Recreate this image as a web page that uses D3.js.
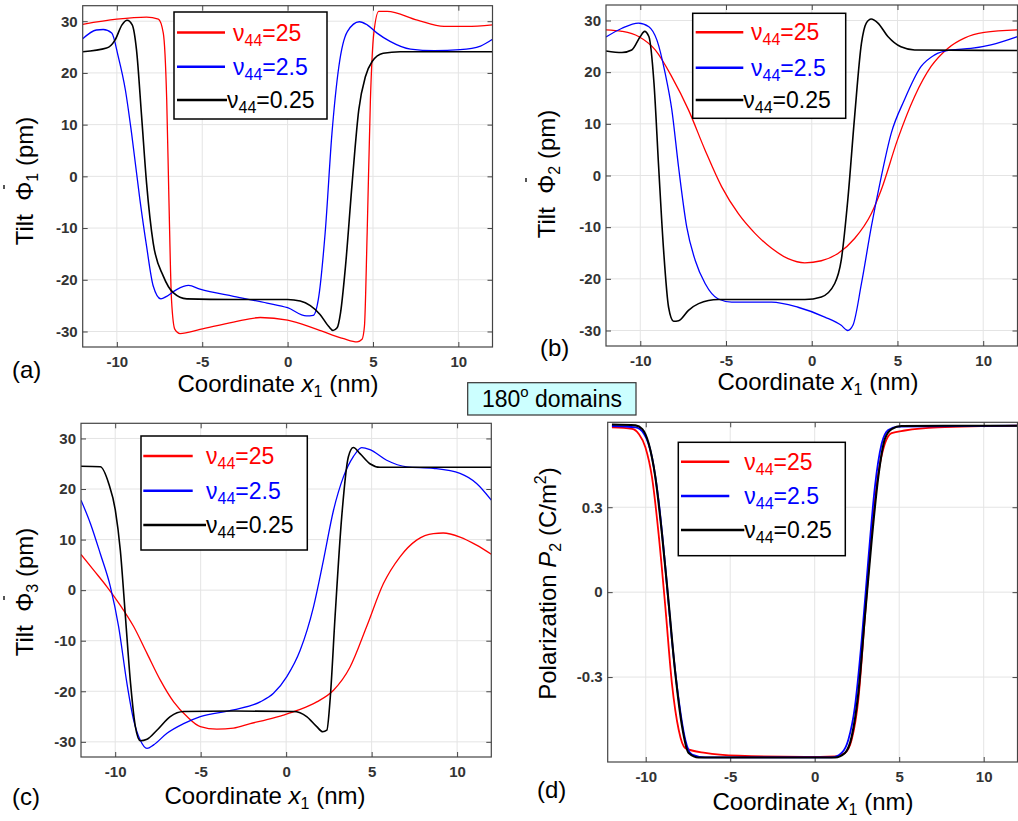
<!DOCTYPE html>
<html>
<head>
<meta charset="utf-8">
<script src="https://cdn.jsdelivr.net/npm/d3@7"></script>
<style>
  body { margin: 0; background: #fff; }
  svg { font-family: "Liberation Sans", Arial, sans-serif; }
  .tick text { font-weight: bold; fill: #333; font-size: 15px; }
</style>
</head>
<body>
<svg id="fig" width="1018" height="821"></svg>
<script>
var xTicks = [-10, -5, 0, 5, 10];
var tiltTicks = [-30, -20, -10, 0, 10, 20, 30];
var polTicks = [-0.3, 0, 0.3];
var legendValues = ["25", "2.5", "0.25"];
var colors = ["#ff0000", "#0000ff", "#000000"];

// (a) tilt Phi1
var a_red = [[-12,29.4],[-10,30.4],[-8.26,30.8],[-7.57,30.4],[-7.28,27.7],[-7.08,14.8],[-6.95,-4.5],[-6.8,-23.8],[-6.6,-29.6],[-6.3,-30.4],[-5.13,-29.6],[-3.17,-28.2],[-1.6,-27.3],[0,-27.8],[1.72,-29.6],[3.29,-31.4],[4.07,-32.0],[4.36,-31.5],[4.5,-29],[4.66,-10.9],[4.85,14.8],[5.05,27.7],[5.34,31.9],[5.83,31.9],[7.6,30.2],[9.16,29.0],[10.5,29.0],[12,29.3]];
var a_blue = [[-12,26.6],[-11.2,28.3],[-10.8,28.4],[-10.3,27.7],[-9.92,23.2],[-9.5,16.7],[-9.14,8.4],[-8.65,-4.5],[-8.26,-13.5],[-7.87,-21.2],[-7.42,-23.7],[-7.08,-23.2],[-6.5,-21.9],[-5.8,-21.1],[-5.13,-21.8],[-3.17,-23.2],[-1.2,-24.5],[0,-25.4],[1.1,-27.0],[1.5,-26.9],[1.8,-23.8],[2.2,-10.9],[2.6,8.4],[3.0,21.2],[3.5,28.0],[4.2,29.9],[4.66,29.3],[5.24,27.7],[6.0,26.1],[7.2,24.6],[8.6,24.3],[10.1,24.5],[11.3,25.2],[12,26.5]];
var a_black = [[-12,24.1],[-10.6,24.8],[-10.1,26.4],[-9.7,29.3],[-9.4,30.2],[-9.1,29.3],[-8.85,24.5],[-8.55,11.6],[-8.26,-1.3],[-7.87,-12.9],[-7.28,-19.3],[-6.7,-22.5],[-5.9,-23.7],[-3.17,-23.8],[0,-23.8],[0.74,-24.1],[1.33,-25.0],[1.9,-26.7],[2.4,-29.0],[2.66,-29.8],[2.9,-29.3],[3.1,-26.4],[3.39,-17.4],[3.78,-1.3],[4.17,12.9],[4.56,19.3],[4.95,22.2],[5.6,23.8],[6.6,24.1],[12,24.1]];

// (b) tilt Phi2
var b_red = [[-12,28.2],[-11.07,27.9],[-10.1,26.9],[-9.13,24.3],[-8.16,19.1],[-7.19,12.7],[-6.22,4.9],[-5.25,-2.2],[-4.28,-7.4],[-3.31,-11.2],[-2.34,-14.1],[-1.38,-16.1],[-0.41,-16.9],[0.56,-16.5],[1.53,-15.1],[2.5,-12.2],[3.47,-7.4],[4.05,-2.8],[5.0,6.9],[6.0,15.3],[6.96,21.1],[7.93,24.6],[8.9,26.6],[10.06,27.7],[12,28.2]];
var b_blue = [[-12,26.8],[-11.07,28.5],[-10.1,29.5],[-9.5,28.8],[-9.03,26.2],[-8.55,19.8],[-8.16,12.7],[-7.77,1.7],[-7.29,-10.0],[-6.8,-16.4],[-6.22,-20.9],[-5.45,-23.9],[-4.67,-24.5],[-2.34,-24.5],[-0.8,-25.5],[0.76,-27.4],[1.72,-29.0],[2.1,-30.0],[2.4,-29.0],[2.9,-20.9],[3.47,-10.0],[4.05,-0.3],[4.63,8.1],[5.4,14.6],[6.38,21.1],[7.15,23.3],[8.12,24.3],[9.28,24.6],[10.45,25.3],[12,26.9]];
var b_black = [[-12,24.1],[-11.07,23.8],[-10.5,24.3],[-10.0,26.9],[-9.75,27.9],[-9.5,26.9],[-9.2,17.8],[-8.93,1.7],[-8.64,-14.5],[-8.35,-25.5],[-8.06,-28.2],[-7.77,-28.1],[-7.19,-26.1],[-6.6,-24.8],[-5.45,-24.0],[-0.4,-24.0],[0.56,-23.5],[1.34,-20.9],[1.72,-16.4],[2.1,-4.8],[2.5,11.4],[2.9,25.6],[3.18,29.5],[3.47,30.3],[3.86,29.5],[4.44,26.9],[5.2,24.9],[6.0,24.3],[12,24.2]];

// (c) tilt Phi3
var c_red = [[-12,7.05],[-11.26,3.95],[-10.48,0.66],[-9.7,-3.0],[-8.92,-7.2],[-8.14,-12.5],[-7.36,-17.8],[-6.58,-22.1],[-5.8,-25.0],[-5.02,-27.0],[-4.05,-27.5],[-3.08,-27.3],[-2.1,-26.4],[-1.13,-25.6],[-0.16,-24.7],[0.82,-23.6],[1.79,-22.1],[2.77,-19.8],[3.74,-15.2],[4.71,-7.2],[5.69,1.3],[6.66,6.6],[7.63,9.9],[8.61,11.2],[9.19,11.3],[10.17,10.5],[11.14,8.9],[12,7.1]];
var c_blue = [[-12,17.8],[-11.45,13.2],[-10.87,7.2],[-10.28,0.66],[-9.8,-7.2],[-9.31,-18.5],[-8.92,-25.7],[-8.53,-29.7],[-8.14,-31.3],[-7.75,-30.6],[-6.97,-28.3],[-6.0,-26.4],[-5.02,-25.0],[-3.08,-23.7],[-1.52,-22.1],[-0.74,-20.4],[0.04,-17.1],[0.82,-11.9],[1.6,-3.3],[2.18,5.9],[2.77,15.8],[3.35,22.4],[3.93,26.4],[4.42,28.2],[4.9,27.8],[5.88,25.7],[7.05,24.4],[8.61,24.1],[10.17,23.1],[11.14,21.1],[12,17.8]];
var c_black = [[-12,24.5],[-10.87,24.4],[-10.38,21.1],[-9.99,15.8],[-9.7,7.9],[-9.4,-5.3],[-9.1,-18.5],[-8.82,-27.0],[-8.53,-29.8],[-8.14,-29.5],[-7.56,-27.7],[-6.78,-25.0],[-6.0,-24.0],[-3.08,-23.9],[0.43,-24.0],[1.2,-25.0],[1.79,-27.0],[2.14,-28.0],[2.38,-27.7],[2.57,-21.7],[2.86,-5.3],[3.25,14.5],[3.64,26.4],[3.93,28.2],[4.32,27.0],[4.9,25.0],[5.49,24.3],[12,24.3]];

// (d) polarization P2
var d_red = [[-12,0.582],[-10.8,0.577],[-10.41,0.559],[-10.02,0.512],[-9.63,0.406],[-9.24,0.207],[-8.84,-0.052],[-8.45,-0.322],[-8.05,-0.486],[-7.66,-0.551],[-6.48,-0.568],[-4.5,-0.578],[-0.57,-0.582],[1.2,-0.580],[1.79,-0.568],[2.19,-0.521],[2.58,-0.380],[2.97,-0.087],[3.37,0.207],[3.76,0.418],[4.15,0.524],[4.55,0.562],[5.33,0.571],[7.3,0.582],[12,0.588]];
var d_blue = [[-12,0.587],[-10.6,0.582],[-10.1,0.559],[-9.63,0.477],[-9.24,0.324],[-8.84,0.089],[-8.45,-0.169],[-8.05,-0.380],[-7.66,-0.521],[-7.26,-0.574],[-6.48,-0.584],[1.0,-0.584],[1.59,-0.568],[1.99,-0.521],[2.38,-0.404],[2.78,-0.169],[3.17,0.113],[3.56,0.371],[3.96,0.524],[4.35,0.573],[4.94,0.585],[12,0.588]];
var d_black = [[-12,0.592],[-10.6,0.589],[-10.2,0.576],[-9.82,0.524],[-9.43,0.406],[-9.04,0.207],[-8.64,-0.04],[-8.25,-0.286],[-7.85,-0.474],[-7.46,-0.568],[-6.87,-0.584],[1.2,-0.584],[1.79,-0.568],[2.19,-0.51],[2.58,-0.357],[2.97,-0.087],[3.37,0.183],[3.76,0.406],[4.15,0.541],[4.55,0.576],[5.14,0.587],[12,0.588]];

var svg = d3.select("#fig");

var panels = [
  {id: "a", box: [82.7, 492.5, 5.7, 347], xd: [-12, 12], yd: [-33, 33], yt: tiltTicks, series: [a_red, a_blue, a_black], lw: 1.3,
   leg: {r: [174, 12, 153, 107], l: [177, 225], tx: [233, 233, 227], rows: [32.5, 66.7, 100]},
   label: [12, 378], xt: [278, 392], ytl: [33, 181], sub: "1"},
  {id: "b", box: [606, 1017.5, 5, 346], xd: [-12, 12], yd: [-33, 33], yt: tiltTicks, series: [b_red, b_blue, b_black], lw: 1.3,
   leg: {r: [692.7, 13.3, 153, 105], l: [695.7, 743.3], tx: [751, 751, 743.3], rows: [32.3, 67.7, 100]},
   label: [540, 356], xt: [818, 390], ytl: [555, 174], sub: "2"},
  {id: "c", box: [81, 491.3, 423.3, 757], xd: [-12, 12], yd: [-33, 33], yt: tiltTicks, series: [c_red, c_blue, c_black], lw: 1.3,
   leg: {r: [141, 436, 166.3, 114], l: [143.3, 192.7], tx: [206, 206, 206], rows: [456, 490.7, 525]},
   label: [12, 805], xt: [265, 804], ytl: [33, 592], sub: "3"},
  {id: "d", box: [607.7, 1017.5, 422.3, 762], xd: [-12.25, 12], yd: [-0.6, 0.6], yt: polTicks, series: [d_red, d_blue, d_black], lw: 1.8,
   leg: {r: [678.3, 442.3, 167, 113.4], l: [681, 729.3], tx: [744.3, 744.3, 744.3], rows: [461.7, 496, 530]},
   label: [537, 798], xt: [813, 810], ytl: [556, 583.5], sub: null}
];

panels.forEach(function(p) {
  var x = d3.scaleLinear().domain(p.xd).range([p.box[0], p.box[1]]);
  var y = d3.scaleLinear().domain(p.yd).range([p.box[3], p.box[2]]);
  var g = svg.append("g");

  // grid
  g.append("g").selectAll("line").data(xTicks).enter().append("line")
    .attr("x1", function(d) { return x(d); }).attr("x2", function(d) { return x(d); })
    .attr("y1", p.box[2]).attr("y2", p.box[3])
    .attr("stroke", "#e4e4e4").attr("stroke-width", 1);
  g.append("g").selectAll("line").data(p.yt).enter().append("line")
    .attr("y1", function(d) { return y(d); }).attr("y2", function(d) { return y(d); })
    .attr("x1", p.box[0]).attr("x2", p.box[1])
    .attr("stroke", "#e4e4e4").attr("stroke-width", 1);

  var fmt = function(d) { return String(d); };
  g.append("g").attr("transform", "translate(0," + p.box[3] + ")")
    .call(d3.axisBottom(x).tickValues(xTicks).tickSizeInner(-5).tickSizeOuter(0).tickPadding(9).tickFormat(fmt));
  g.append("g").attr("transform", "translate(0," + p.box[2] + ")")
    .call(d3.axisTop(x).tickValues(xTicks).tickSizeInner(-5).tickSizeOuter(0).tickFormat(""));
  g.append("g").attr("transform", "translate(" + p.box[0] + ",0)")
    .call(d3.axisLeft(y).tickValues(p.yt).tickSizeInner(-5).tickSizeOuter(0).tickPadding(5).tickFormat(fmt));
  g.append("g").attr("transform", "translate(" + p.box[1] + ",0)")
    .call(d3.axisRight(y).tickValues(p.yt).tickSizeInner(-5).tickSizeOuter(0).tickFormat(""));
  g.selectAll(".domain").remove();
  g.selectAll(".tick line").attr("stroke", "#444");

  // clip + curves
  svg.append("clipPath").attr("id", "clip" + p.id).append("rect")
    .attr("x", p.box[0]).attr("y", p.box[2])
    .attr("width", p.box[1] - p.box[0]).attr("height", p.box[3] - p.box[2]);
  var line = d3.line().x(function(d) { return x(d[0]); }).y(function(d) { return y(d[1]); })
    .curve(d3.curveMonotoneX);
  g.append("g").attr("clip-path", "url(#clip" + p.id + ")")
    .selectAll("path").data(p.series).enter().append("path")
    .attr("d", line).attr("fill", "none")
    .attr("stroke", function(d, i) { return colors[i]; })
    .attr("stroke-width", function(d, i) { return i == 2 ? p.lw + 0.3 : p.lw; });

  // frame
  g.append("rect").attr("x", p.box[0]).attr("y", p.box[2])
    .attr("width", p.box[1] - p.box[0]).attr("height", p.box[3] - p.box[2])
    .attr("fill", "none").attr("stroke", "#444").attr("stroke-width", 1.2);

  // legend
  var L = p.leg;
  g.append("rect").attr("x", L.r[0]).attr("y", L.r[1]).attr("width", L.r[2]).attr("height", L.r[3])
    .attr("fill", "#fff").attr("stroke", "#000").attr("stroke-width", 1.5);
  var rows = g.append("g").selectAll("g").data(legendValues).enter().append("g");
  rows.append("line")
    .attr("x1", L.l[0]).attr("x2", function(d, i) { return i == 2 ? L.tx[2] : L.l[1]; })
    .attr("y1", function(d, i) { return L.rows[i]; }).attr("y2", function(d, i) { return L.rows[i]; })
    .attr("stroke", function(d, i) { return colors[i]; }).attr("stroke-width", 2.5);
  var lt = rows.append("text")
    .attr("x", function(d, i) { return L.tx[i]; })
    .attr("y", function(d, i) { return L.rows[i] + 8; })
    .attr("font-size", 23).attr("fill", function(d, i) { return colors[i]; });
  lt.append("tspan").text("\u03bd");
  lt.append("tspan").attr("font-size", 16).attr("dy", 5).text("44");
  lt.append("tspan").attr("dy", -5).text(function(d) { return "=" + d; });

  // panel label
  g.append("text").attr("x", p.label[0]).attr("y", p.label[1]).attr("font-size", 24).text("(" + p.id + ")");

  // x title
  var xt = g.append("text").attr("x", p.xt[0]).attr("y", p.xt[1]).attr("font-size", 24).attr("text-anchor", "middle");
  xt.append("tspan").text("Coordinate ");
  xt.append("tspan").attr("font-style", "italic").text("x");
  xt.append("tspan").attr("font-size", 16).attr("dy", 5).text("1");
  xt.append("tspan").attr("dy", -5).text(" (nm)");

  // y title
  var yt = g.append("text").attr("font-size", 24).attr("text-anchor", "middle")
    .attr("transform", "translate(" + p.ytl[0] + "," + p.ytl[1] + ") rotate(-90)");
  if (p.sub) {
    yt.append("tspan").text("Tilt\u00a0\u00a0\u03a6");
    yt.append("tspan").attr("font-size", 16).attr("dy", 5).text(p.sub);
    yt.append("tspan").attr("dy", -5).text(" (pm)");
    // stray accent mark above the Phi
    g.append("line")
      .attr("x1", p.ytl[0] - 29).attr("x2", p.ytl[0] - 29)
      .attr("y1", p.ytl[1] + 4).attr("y2", p.ytl[1] + 8)
      .attr("stroke", "#555").attr("stroke-width", 2);
  } else {
    yt.append("tspan").text("Polarization ");
    yt.append("tspan").attr("font-style", "italic").text("P");
    yt.append("tspan").attr("font-size", 16).attr("dy", 5).text("2");
    yt.append("tspan").attr("dy", -5).text(" (C/m");
    yt.append("tspan").attr("font-size", 16).attr("dy", -10).text("2");
    yt.append("tspan").attr("dy", 10).text(")");
  }
});

// centre annotation
var note = svg.append("g");
note.append("rect").attr("x", 467.7).attr("y", 382.7).attr("width", 168.3).attr("height", 32.3)
  .attr("fill", "#ccffff").attr("stroke", "#333").attr("stroke-width", 1.2);
var nt = note.append("text").attr("x", 552).attr("y", 407).attr("font-size", 23).attr("text-anchor", "middle");
nt.append("tspan").text("180");
nt.append("tspan").attr("font-size", 15).attr("dy", -10).text("o");
nt.append("tspan").attr("dy", 10).text(" domains");
</script>
</body>
</html>
